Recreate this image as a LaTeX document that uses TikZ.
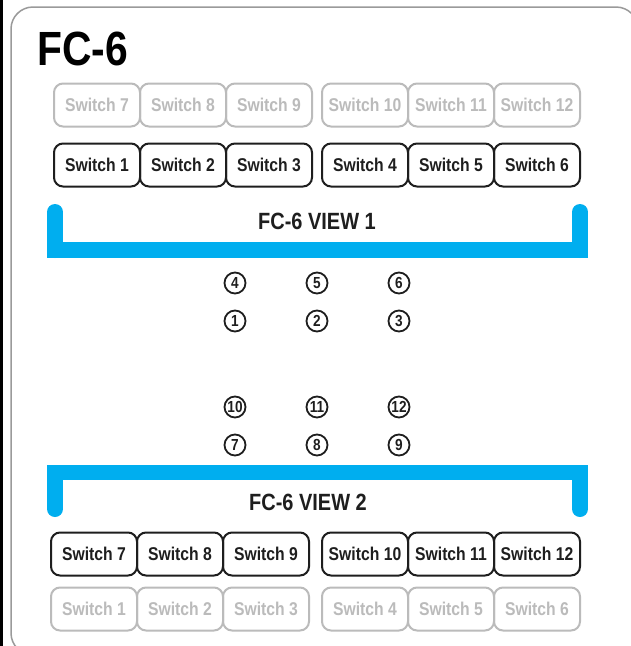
\documentclass[tikz,border=0pt]{standalone}
\usepackage{fontspec}
\setmainfont{Liberation Sans}[FakeStretch=0.85]
\definecolor{cyanbar}{HTML}{00AEEF}
\definecolor{grayline}{HTML}{BBBBBB}
\definecolor{ink}{HTML}{1E1E1E}
\definecolor{frame}{HTML}{9A9A9A}
\tikzset{
  swbox/.style={draw, line width=2pt, rounded corners=9pt, minimum width=86pt, minimum height=43pt,
    inner sep=0pt, font=\fontsize{18.5}{18.5}\selectfont\bfseries},
  swon/.style={swbox, draw=ink, text=ink},
  swoff/.style={swbox, draw=grayline, text=grayline},
  num/.style={draw=ink, text=ink, circle, line width=1.8pt, minimum size=21pt, inner sep=0pt,
    font=\fontsize{16}{16}\selectfont\bfseries},
  viewtxt/.style={text=ink, font=\fontsize{23.5}{23.5}\selectfont\bfseries},
  barv/.style={draw=cyanbar, line width=16pt, line cap=round}
}
\begin{document}
\begin{tikzpicture}[x=1pt,y=-1pt]
\useasboundingbox (0,0) rectangle (631,646);
\clip (0,0) rectangle (631,646);
\fill[white] (0,0) rectangle (631,646);
\fill[black] (0,0) rectangle (3,646);
\draw[frame, line width=1.5pt, rounded corners=22pt] (11,7) rectangle (638,655);
\node[anchor=base west, text=black, font=\fontsize{48}{48}\selectfont\bfseries, inner sep=0pt] (title) at (37,65) {FC-6};
% top rows
\foreach \n/\x in {7/97,8/183,9/269,10/365,11/451,12/537} \node[swoff] (tg\n) at (\x,105) {Switch \n};
\foreach \n/\x in {1/97,2/183,3/269,4/365,5/451,6/537} \node[swon] (tb\n) at (\x,165) {Switch \n};
% bracket 1
\fill[cyanbar] (47,242) rectangle (588,258);
\draw[barv] (55,250) -- (55,212);
\draw[barv] (580,250) -- (580,212);
\node[viewtxt] (v1) at (317,221) {FC-6 VIEW 1};
% numbers
\foreach \n/\x/\y in {4/235/283,5/317/283,6/399/283,1/235/321,2/317/321,3/399/321,
  10/235/407,11/317/407,12/399/407,7/235/445,8/317/445,9/399/445}
  \node[num] (c\n) at (\x,\y) {\n};
% bracket 2
\fill[cyanbar] (47,465) rectangle (588,480);
\draw[barv] (55,473) -- (55,509);
\draw[barv] (580,473) -- (580,509);
\node[viewtxt] (v2) at (308,502) {FC-6 VIEW 2};
% bottom rows
\foreach \n/\x in {7/94,8/180,9/266,10/365,11/451,12/537} \node[swon] (bb\n) at (\x,554) {Switch \n};
\foreach \n/\x in {1/94,2/180,3/266,4/365,5/451,6/537} \node[swoff] (bg\n) at (\x,609) {Switch \n};
\end{tikzpicture}
\end{document}
